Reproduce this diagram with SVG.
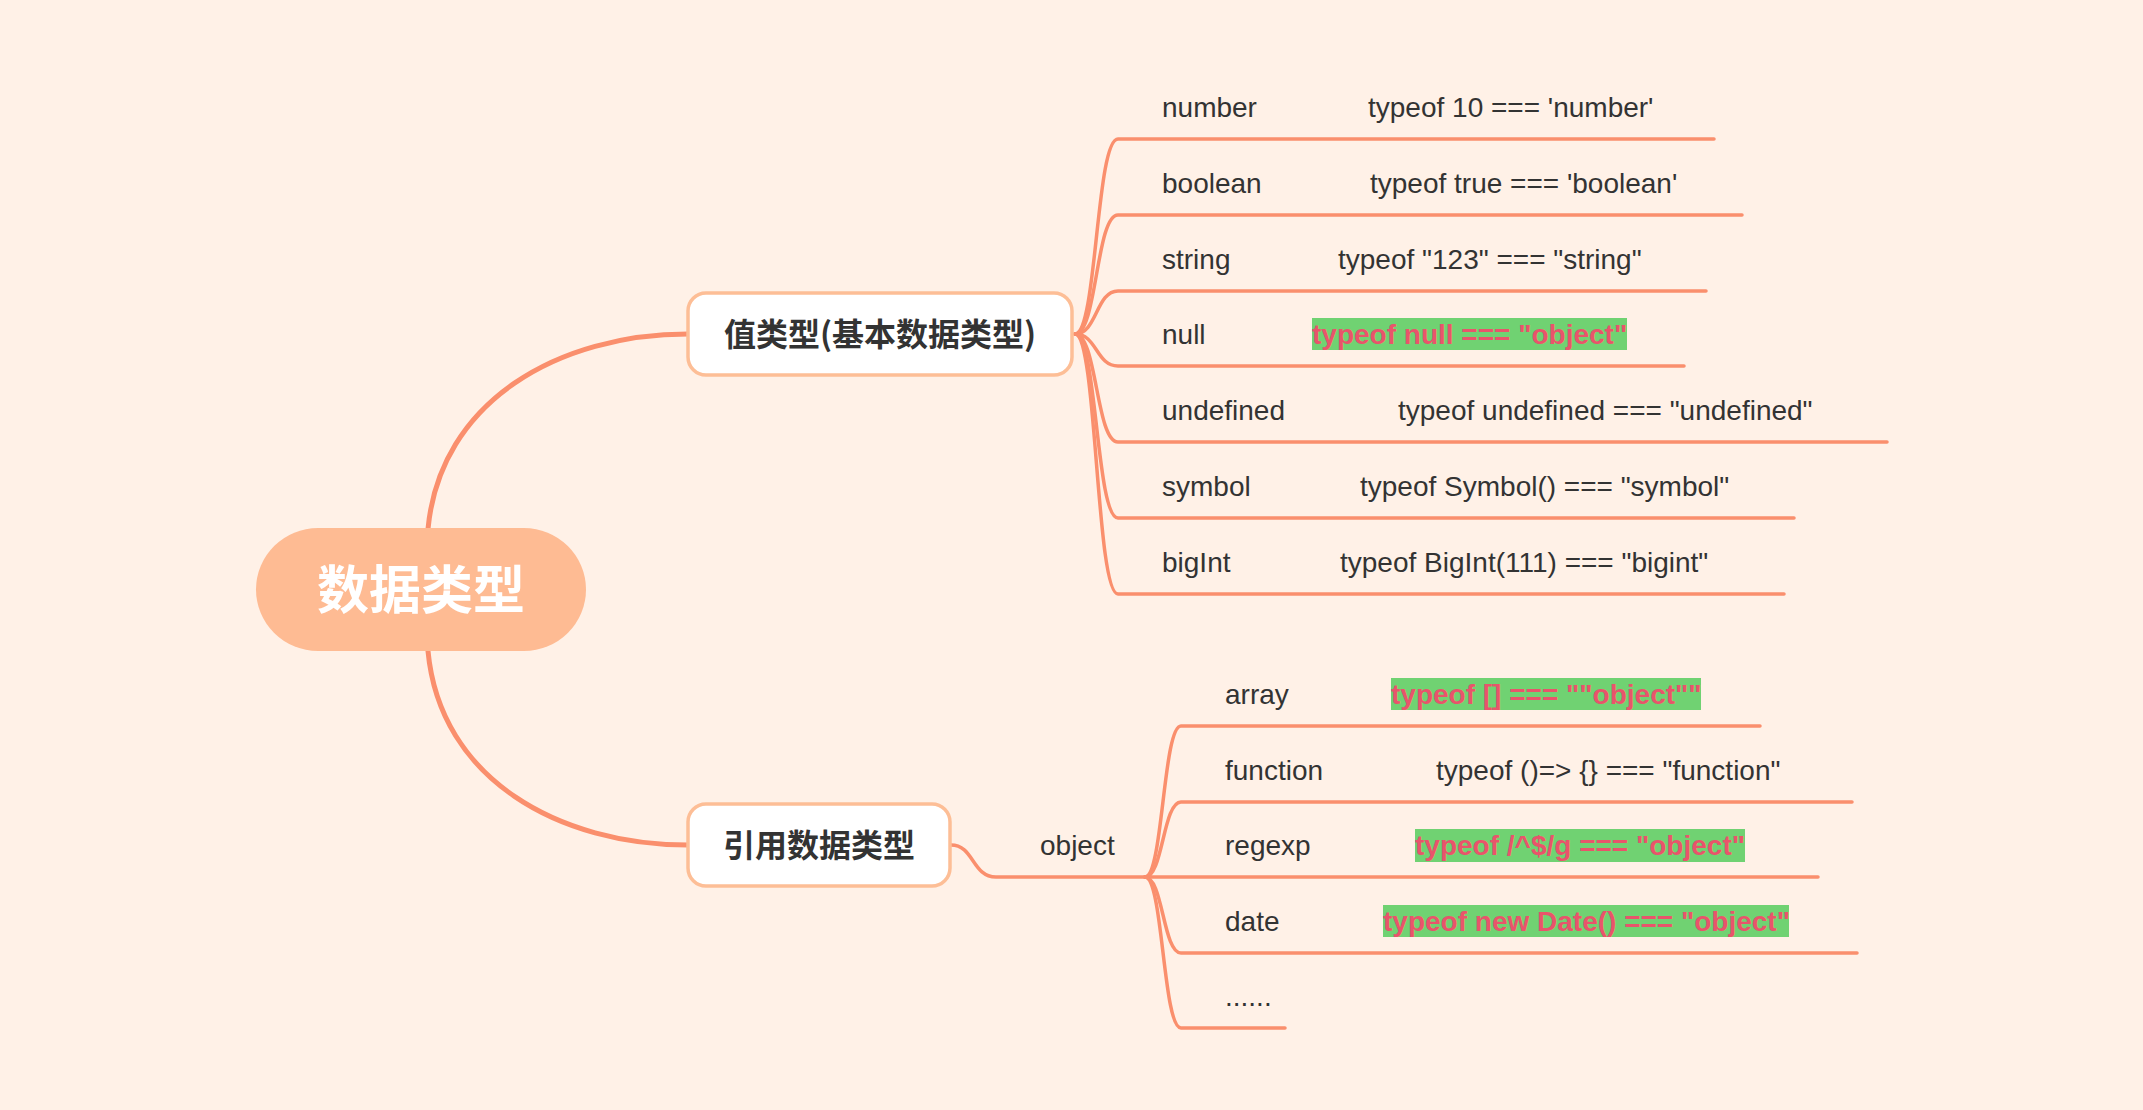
<svg xmlns="http://www.w3.org/2000/svg" width="2143" height="1110" viewBox="0 0 2143 1110">
<style>
.bg{fill:#FFF1E7}
.main{fill:none;stroke:#FA8F6D;stroke-width:5;stroke-linecap:round}
.sub{fill:none;stroke:#FA8F6D;stroke-width:3.5;stroke-linecap:round}
.lbl{font-family:"Liberation Sans",Arial,sans-serif;font-size:28px;fill:#333333}
.hl{font-family:"Liberation Sans",Arial,sans-serif;font-size:28px;font-weight:bold;fill:#E9546B}
.hlbox{fill:#70D272}
.topic{fill:#FFFFFF;stroke:#FDBE96;stroke-width:3.5}
.ttext{font-family:"Noto Sans CJK SC","Noto Sans",sans-serif;font-size:32px;font-weight:bold;fill:#333333;text-anchor:middle}
.root{fill:#FEBB93}
.rtext{font-family:"Noto Sans CJK SC","Noto Sans",sans-serif;font-size:52px;font-weight:bold;fill:#FFFFFF;text-anchor:middle}
</style>
<rect class="bg" x="0" y="0" width="2143" height="1110"/>
<g id="connectors">
<path class="main" d="M428,529 C440,400 560,334 688,334"/>
<path class="main" d="M428,651 C440,780 560,845 688,845"/>
<path class="sub" d="M1075,334 C1097,334 1096,139 1118,139 L1714,139"/>
<path class="sub" d="M1075,334 C1097,334 1096,215 1118,215 L1742,215"/>
<path class="sub" d="M1075,334 C1097,334 1096,291 1118,291 L1706,291"/>
<path class="sub" d="M1075,334 C1097,334 1096,366 1118,366 L1684,366"/>
<path class="sub" d="M1075,334 C1097,334 1096,442 1118,442 L1887,442"/>
<path class="sub" d="M1075,334 C1097,334 1096,518 1118,518 L1794,518"/>
<path class="sub" d="M1075,334 C1097,334 1096,594 1118,594 L1784,594"/>
<path class="sub" d="M951,845 C974,845 972,877 996,877 L1145,877"/>
<path class="sub" d="M1145,877 C1163,877 1163,726 1181,726 L1760,726"/>
<path class="sub" d="M1145,877 C1163,877 1163,802 1181,802 L1852,802"/>
<path class="sub" d="M1145,877 L1818,877"/>
<path class="sub" d="M1145,877 C1163,877 1163,953 1181,953 L1857,953"/>
<path class="sub" d="M1145,877 C1163,877 1163,1028 1181,1028 L1285,1028"/>
</g>
<g id="root">
<rect class="root" x="256" y="528" width="330" height="123" rx="62" ry="62"/>
<text class="rtext" x="421" y="609">数据类型</text>
</g>
<g id="value-types">
<rect class="topic" x="688" y="293" width="384" height="82" rx="18" ry="18"/>
<text class="ttext" x="880" y="346">值类型(基本数据类型)</text>
</g>
<g id="ref-types">
<rect class="topic" x="688" y="804" width="262" height="82" rx="18" ry="18"/>
<text class="ttext" x="819" y="857">引用数据类型</text>
</g>
<g id="number"><text class="lbl" x="1162" y="117">number</text><text class="lbl" x="1368" y="117">typeof 10 === 'number'</text></g>
<g id="boolean"><text class="lbl" x="1162" y="193">boolean</text><text class="lbl" x="1370" y="193">typeof true === 'boolean'</text></g>
<g id="string"><text class="lbl" x="1162" y="269">string</text><text class="lbl" x="1338" y="269">typeof "123" === "string"</text></g>
<g id="null"><text class="lbl" x="1162" y="344">null</text><rect class="hlbox" x="1312" y="318" width="315" height="32"/><text class="hl" x="1312" y="344">typeof null === "object"</text></g>
<g id="undefined"><text class="lbl" x="1162" y="420">undefined</text><text class="lbl" x="1398" y="420">typeof undefined === "undefined"</text></g>
<g id="symbol"><text class="lbl" x="1162" y="496">symbol</text><text class="lbl" x="1360" y="496">typeof Symbol() === "symbol"</text></g>
<g id="bigint"><text class="lbl" x="1162" y="572">bigInt</text><text class="lbl" x="1340" y="572">typeof BigInt(111) === "bigint"</text></g>
<g id="object"><text class="lbl" x="1040" y="855">object</text></g>
<g id="array"><text class="lbl" x="1225" y="704">array</text><rect class="hlbox" x="1391" y="678" width="310" height="32"/><text class="hl" x="1391" y="704">typeof [] === ""object""</text></g>
<g id="function"><text class="lbl" x="1225" y="780">function</text><text class="lbl" x="1436" y="780">typeof ()=&gt; {} === "function"</text></g>
<g id="regexp"><text class="lbl" x="1225" y="855">regexp</text><rect class="hlbox" x="1415" y="829" width="330" height="33"/><text class="hl" x="1415" y="855">typeof /^$/g === "object"</text></g>
<g id="date"><text class="lbl" x="1225" y="931">date</text><rect class="hlbox" x="1383" y="905" width="406" height="32"/><text class="hl" x="1383" y="931">typeof new Date() === "object"</text></g>
<g id="more"><text class="lbl" x="1225" y="1006">......</text></g>
</svg>
